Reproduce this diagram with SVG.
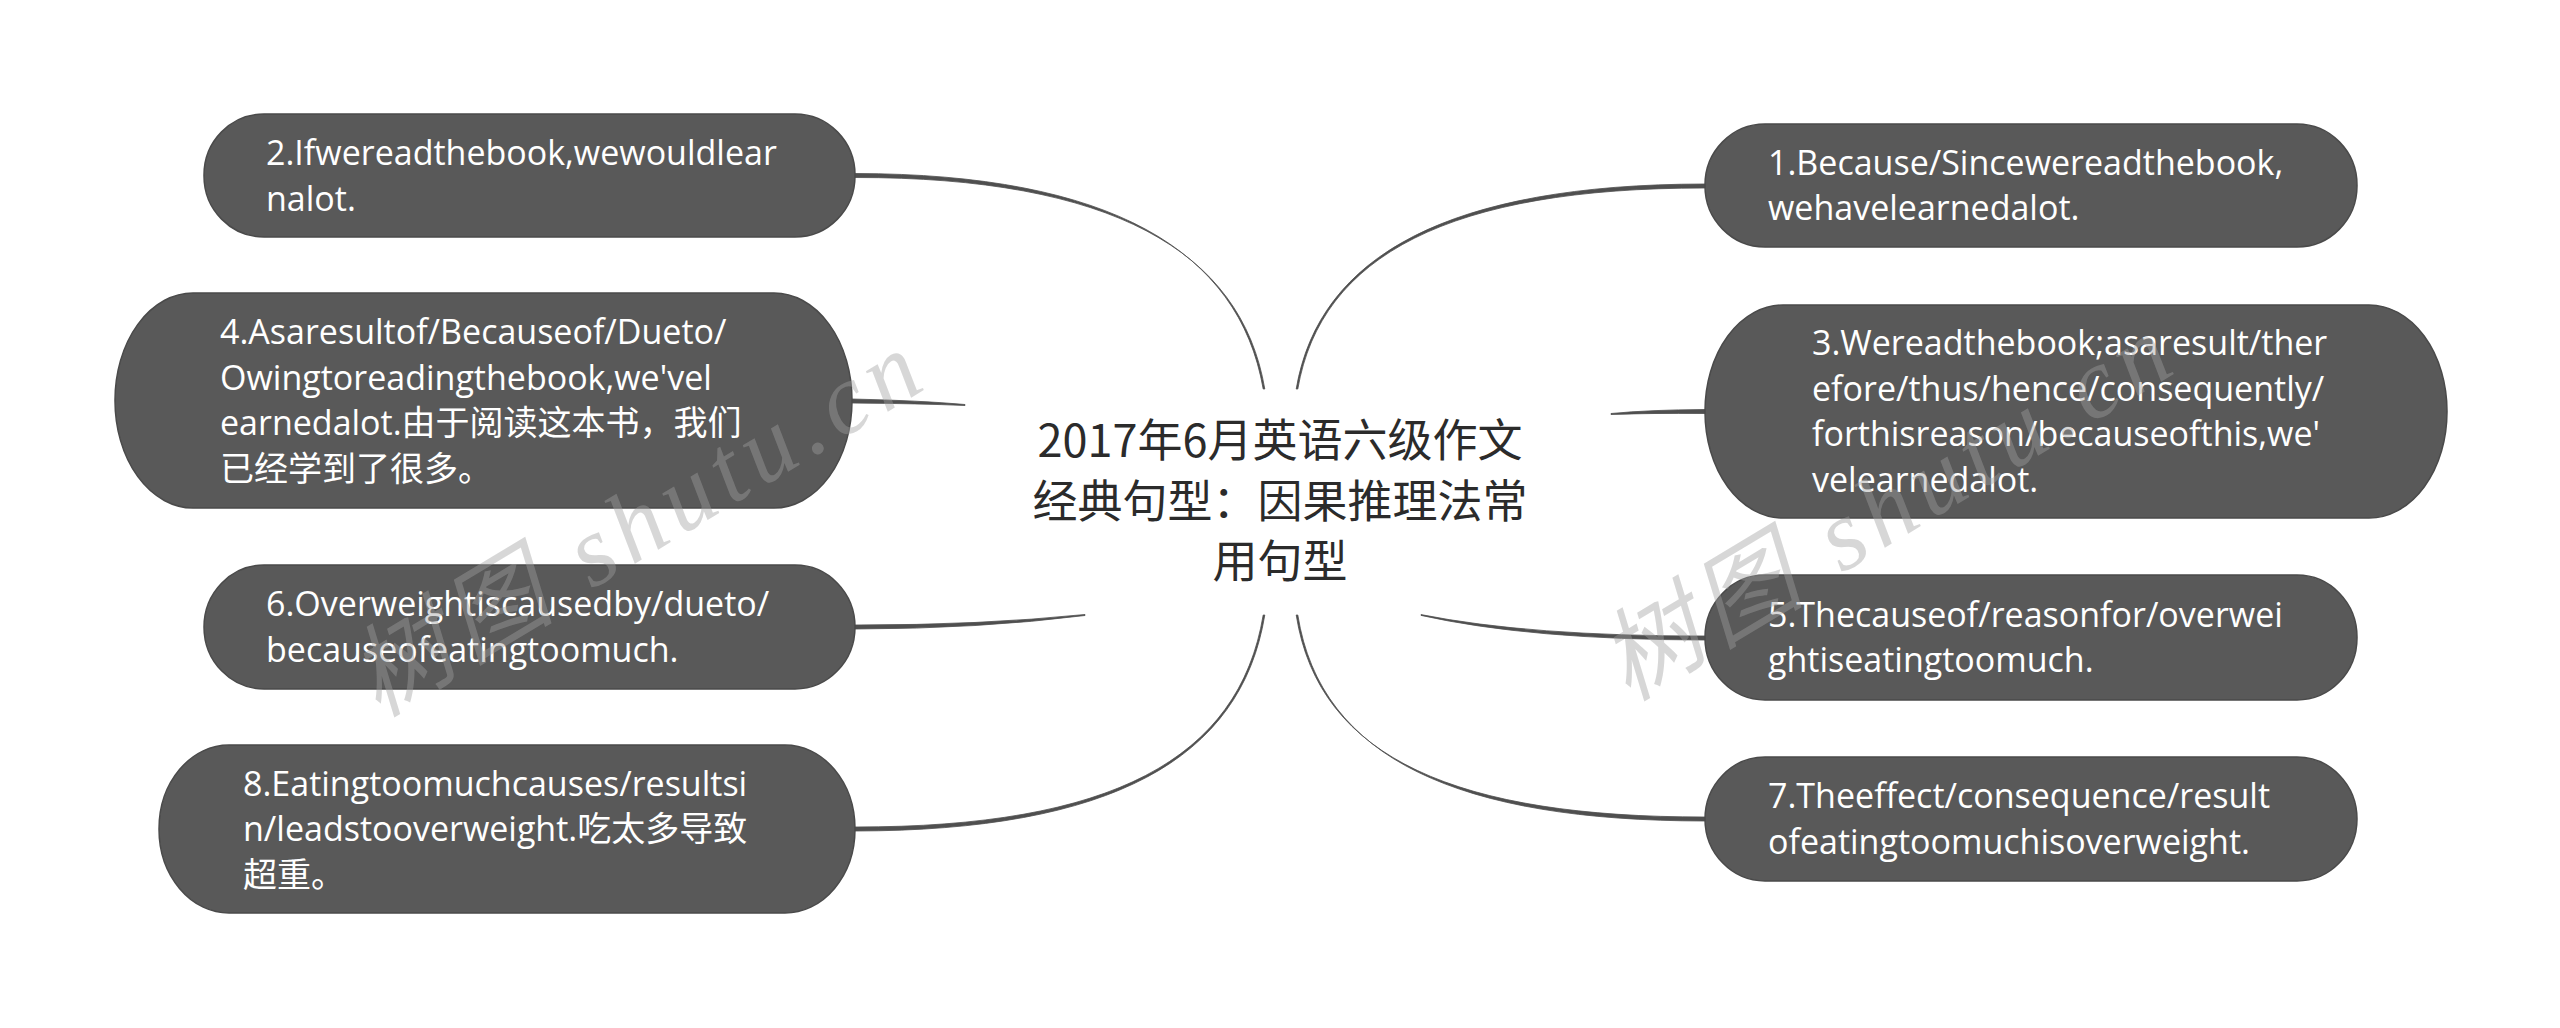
<svg xmlns="http://www.w3.org/2000/svg" width="2560" height="1028" viewBox="0 0 2560 1028">
<style>
.node rect{fill:#595959;stroke:#4a4a4a;stroke-width:1.5}
.node text{fill:#ffffff;font-family:"Open Sans","Noto Sans CJK SC",sans-serif;font-size:34px}
.title{fill:#2b2b2b;font-family:"Noto Sans CJK SC","Noto Sans",sans-serif;font-size:45px;text-anchor:middle}
.conn path{fill:#4f4f4f;stroke:#4f4f4f;stroke-width:0.8}
.wm{fill:#a0a0a0;fill-opacity:0.42;font-family:"Liberation Serif","Noto Sans CJK SC",serif;font-style:italic;font-size:100px;letter-spacing:8px}
</style>
<rect width="2560" height="1028" fill="#ffffff"/>
<g id="connectors" class="conn">
<path d="M1263.2 389 C1239 250 1110 173.8 855 173.5 L855 177.5 C1110 177.2 1241.2 250 1264.8 389 Z"/>
<path d="M1296.2 389 C1319 255 1450 184.2 1705 184 L1705 188 C1450 187.8 1321 255 1297.8 389 Z"/>
<path d="M965 404.5 Q920 400.5 852 399 L852 403 Q920 403.5 965 405.5 Z"/>
<path d="M1611 413.5 Q1650 409.8 1705 409.5 L1705 413.5 Q1650 413 1611 414.5 Z"/>
<path d="M1085 614.5 Q980 625.2 855 625 L855 629 Q980 628.8 1085 615.5 Z"/>
<path d="M1263.2 615 C1239 760 1110 827.2 855 827 L855 831 C1110 830.8 1241 760 1264.8 615 Z"/>
<path d="M1421 614.6 Q1530 636.2 1705 636 L1705 640 Q1530 639.8 1421 615.4 Z"/>
<path d="M1296.2 615 C1319 760 1460 817.2 1705 817 L1705 821 C1460 820.8 1321 760 1297.8 615 Z"/>
</g>
<g id="center">
<text class="title" x="1280" y="457">2017年6月英语六级作文</text>
<text class="title" x="1280" y="518">经典句型：因果推理法常</text>
<text class="title" x="1280" y="578">用句型</text>
</g>
<g id="n2" class="node">
<rect x="204" y="114" width="651" height="123" rx="60" ry="61"/>
<text x="266" y="165">2.Ifwereadthebook,wewouldlear</text>
<text x="266" y="211">nalot.</text>
</g>
<g id="n4" class="node">
<rect x="115" y="293" width="737" height="215" rx="78" ry="107"/>
<text x="220" y="344">4.Asaresultof/Becauseof/Dueto/</text>
<text x="220" y="390">Owingtoreadingthebook,we'vel</text>
<text x="220" y="435">earnedalot.由于阅读这本书，我们</text>
<text x="220" y="481">已经学到了很多。</text>
</g>
<g id="n6" class="node">
<rect x="204" y="565" width="651" height="124" rx="60" ry="62"/>
<text x="266" y="616">6.Overweightiscausedby/dueto/</text>
<text x="266" y="662">becauseofeatingtoomuch.</text>
</g>
<g id="n8" class="node">
<rect x="159" y="745" width="696" height="168" rx="70" ry="84"/>
<text x="243" y="796">8.Eatingtoomuchcauses/resultsi</text>
<text x="243" y="841">n/leadstooverweight.吃太多导致</text>
<text x="243" y="887">超重。</text>
</g>
<g id="n1" class="node">
<rect x="1705" y="124" width="652" height="123" rx="60" ry="61"/>
<text x="1768" y="175">1.Because/Sincewereadthebook,</text>
<text x="1768" y="220">wehavelearnedalot.</text>
</g>
<g id="n3" class="node">
<rect x="1705" y="305" width="742" height="213" rx="78" ry="106"/>
<text x="1812" y="355">3.Wereadthebook;asaresult/ther</text>
<text x="1812" y="401">efore/thus/hence/consequently/</text>
<text x="1812" y="446">forthisreason/becauseofthis,we'</text>
<text x="1812" y="492">velearnedalot.</text>
</g>
<g id="n5" class="node">
<rect x="1705" y="575" width="652" height="125" rx="60" ry="62"/>
<text x="1768" y="627">5.Thecauseof/reasonfor/overwei</text>
<text x="1768" y="672">ghtiseatingtoomuch.</text>
</g>
<g id="n7" class="node">
<rect x="1705" y="757" width="652" height="124" rx="60" ry="62"/>
<text x="1768" y="808">7.Theeffect/consequence/result</text>
<text x="1768" y="854">ofeatingtoomuchisoverweight.</text>
</g>
<g id="watermark">
<text class="wm" transform="translate(378,718) rotate(-31)">树图 shutu.cn</text>
<text class="wm" transform="translate(1628,702) rotate(-31)">树图 shutu.cn</text>
</g>
</svg>
